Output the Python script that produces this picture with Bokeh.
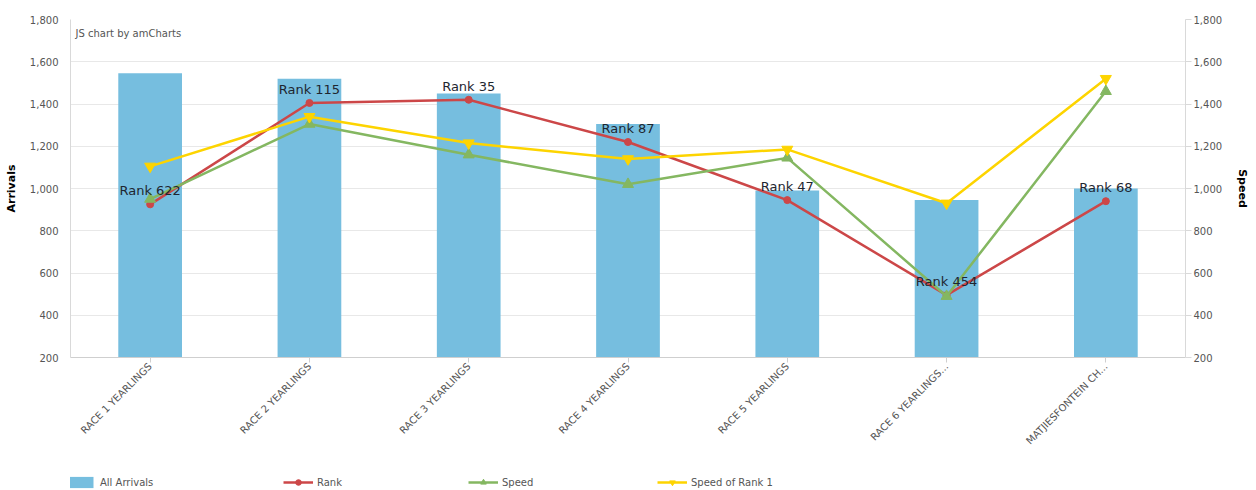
from bokeh.plotting import figure
from bokeh.models import (ColumnDataSource, Range1d, LinearAxis, FixedTicker,
                          NumeralTickFormatter, Legend, LegendItem, Label, FactorRange)
from bokeh.layouts import column
from bokeh.core.properties import value
from bokeh.embed import file_html
from bokeh.resources import INLINE
from math import pi

categories = ["RACE 1 YEARLINGS", "RACE 2 YEARLINGS", "RACE 3 YEARLINGS", "RACE 4 YEARLINGS",
              "RACE 5 YEARLINGS", "RACE 6 YEARLINGS...", "MATJIESFONTEIN CH..."]
arrivals = [1545, 1520, 1450, 1305, 990, 945, 1000]
rank_values = [925, 1405, 1420, 1220, 945, 495, 940]
rank_labels = ["Rank 622", "Rank 115", "Rank 35", "Rank 87", "Rank 47", "Rank 454", "Rank 68"]
speed = [950, 1305, 1160, 1020, 1145, 490, 1460]
speed_rank1 = [1105, 1340, 1215, 1140, 1185, 930, 1520]
y_ticks = [200, 400, 600, 800, 1000, 1200, 1400, 1600, 1800]
legend_labels = ["All Arrivals", "Rank", "Speed", "Speed of Rank 1"]

FONT = "DejaVu Sans"
BAR = "#76bedf"
RED = "#cc4748"
GREEN = "#84b761"
YELLOW = "#fdd400"
Y_MIN, Y_MAX = 200, 1800

src = ColumnDataSource(dict(cat=categories, arrivals=arrivals, rank=rank_values,
                            label=rank_labels, speed=speed, speed1=speed_rank1))

p = figure(x_range=FactorRange(*categories), y_range=Range1d(Y_MIN, Y_MAX),
           width=1256, height=466, toolbar_location=None, output_backend="svg",
           min_border_left=70, min_border_right=71, min_border_top=19, min_border_bottom=109)
p.outline_line_color = None
p.xgrid.grid_line_color = None
p.ygrid.grid_line_color = "#e8e8e8"
p.ygrid.ticker = FixedTicker(ticks=y_ticks)

# left axis
yl = p.yaxis[0]
yl.ticker = FixedTicker(ticks=y_ticks)
yl.formatter = NumeralTickFormatter(format="0,0")
yl.axis_label = "Arrivals"
yl.axis_label_text_font = FONT
yl.axis_label_text_font_style = "bold"
yl.axis_label_text_font_size = "11px"
yl.axis_label_text_color = "#000000"
yl.axis_label_standoff = 9
yl.major_label_text_font = FONT
yl.major_label_text_font_size = "10px"
yl.major_label_text_color = "#555555"
yl.major_label_standoff = 12
yl.major_tick_out = 0
yl.major_tick_in = 0
yl.minor_tick_out = 0
yl.minor_tick_in = 0
yl.axis_line_color = "#d9d9d9"

# right axis
p.extra_y_ranges = {"speed": Range1d(Y_MIN, Y_MAX)}
yr = LinearAxis(y_range_name="speed", axis_label="Speed")
yr.ticker = FixedTicker(ticks=y_ticks)
yr.formatter = NumeralTickFormatter(format="0,0")
yr.axis_label_text_font = FONT
yr.axis_label_text_font_style = "bold"
yr.axis_label_text_font_size = "11px"
yr.axis_label_text_color = "#000000"
yr.axis_label_standoff = 11
yr.major_label_text_font = FONT
yr.major_label_text_font_size = "10px"
yr.major_label_text_color = "#555555"
yr.major_label_standoff = 2
yr.major_tick_out = 6
yr.major_tick_in = 0
yr.minor_tick_out = 0
yr.minor_tick_in = 0
yr.axis_line_color = "#d9d9d9"
yr.major_tick_line_color = "#d9d9d9"
p.add_layout(yr, "right")

# x axis
xa = p.xaxis[0]
xa.major_label_orientation = pi / 4
xa.major_label_text_font = FONT
xa.major_label_text_font_size = "10px"
xa.major_label_text_color = "#555555"
xa.major_label_standoff = 2
xa.major_tick_out = 5
xa.major_tick_in = 0
xa.axis_line_color = "#cfcfcf"
xa.major_tick_line_color = "#cfcfcf"

# series
p.vbar(x="cat", top="arrivals", bottom=Y_MIN, width=0.4, source=src,
       fill_color=BAR, line_color=None)
p.line(x="cat", y="rank", source=src, line_color=RED, line_width=2.5)
p.scatter(x="cat", y="rank", source=src, marker="circle", size=7,
          fill_color=RED, line_color=RED)
p.line(x="cat", y="speed", source=src, line_color=GREEN, line_width=2.5,
       y_range_name="speed")
p.scatter(x="cat", y="speed", source=src, marker="triangle", size=11,
          fill_color=GREEN, line_color=GREEN, y_range_name="speed")
p.line(x="cat", y="speed1", source=src, line_color=YELLOW, line_width=2.5,
       y_range_name="speed")
p.scatter(x="cat", y="speed1", source=src, marker="inverted_triangle", size=11,
          fill_color=YELLOW, line_color=YELLOW, y_range_name="speed")

p.text(x="cat", y="rank", text="label", source=src, text_align="center",
       text_baseline="bottom", y_offset=-6, text_font=value(FONT),
       text_font_size="13px", text_color="#1e2630")

p.add_layout(Label(x=0, y=Y_MAX, x_units="data", y_units="data", x_offset=5, y_offset=-8,
                   text="JS chart by amCharts", text_baseline="top",
                   text_font=FONT, text_font_size="10px", text_color="#555555"))

# legend strip
lg = figure(width=1256, height=24, toolbar_location=None, output_backend="svg",
            min_border=0, x_range=(0, 1), y_range=(0, 1),
            x_axis_type=None, y_axis_type=None)
lg.grid.visible = False
lg.outline_line_color = None
dummy = ColumnDataSource(dict(x=[-10], y=[-10]))
lb = lg.vbar(x="x", top="y", width=1, source=dummy, fill_color=BAR, line_color=None)
l1 = lg.line(x="x", y="y", source=dummy, line_color=RED, line_width=2.5)
m1 = lg.scatter(x="x", y="y", source=dummy, marker="circle", size=7, fill_color=RED, line_color=RED)
l2 = lg.line(x="x", y="y", source=dummy, line_color=GREEN, line_width=2.5)
m2 = lg.scatter(x="x", y="y", source=dummy, marker="triangle", size=11, fill_color=GREEN, line_color=GREEN)
l3 = lg.line(x="x", y="y", source=dummy, line_color=YELLOW, line_width=2.5)
m3 = lg.scatter(x="x", y="y", source=dummy, marker="inverted_triangle", size=11, fill_color=YELLOW, line_color=YELLOW)

legend_renderers = [[lb], [l1, m1], [l2, m2], [l3, m3]]
legend_x = [-4, 213, 398, 587]
for lab, rends, lx in zip(legend_labels, legend_renderers, legend_x):
    lg.add_layout(Legend(items=[LegendItem(label=lab, renderers=rends)],
                         location=(lx, 1), glyph_width=30, glyph_height=14,
                         label_standoff=4, padding=0, margin=0, spacing=0,
                         label_height=14,
                         border_line_color=None, background_fill_alpha=0,
                         label_text_font=FONT, label_text_font_size="10px",
                         label_text_color="#555555"))

layout = column(p, lg, spacing=0)
open("out.html", "w").write(file_html(layout, INLINE))
